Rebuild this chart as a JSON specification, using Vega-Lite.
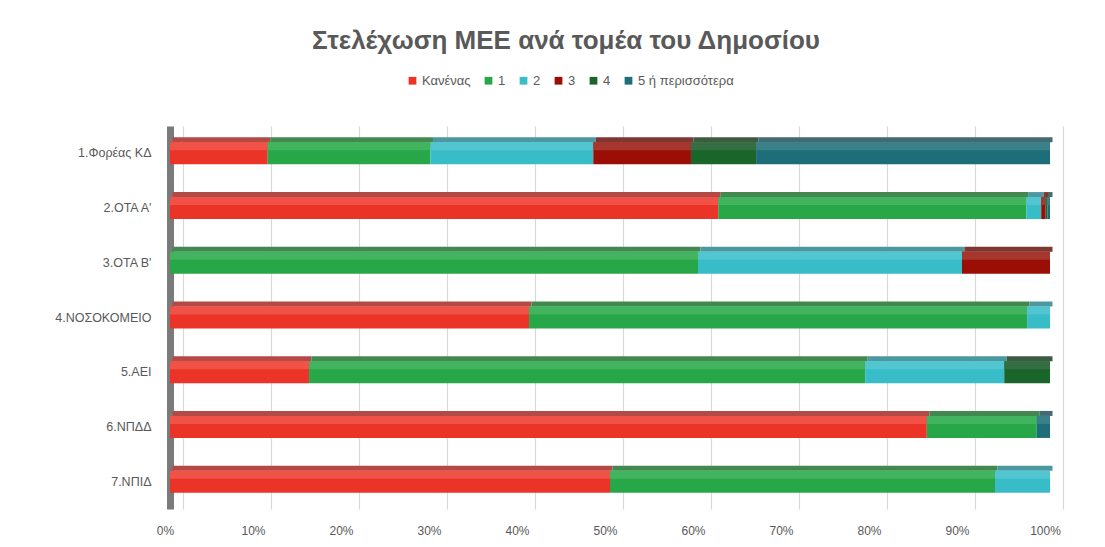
{
  "$schema": "https://vega.github.io/schema/vega-lite/v6.json",
  "width": 880,
  "height": 383,
  "autosize": {"type": "none"},
  "padding": {"left": 170, "top": 126, "right": 55, "bottom": 38},
  "background": "white",
  "config": {
    "font": "Liberation Sans",
    "view": {"stroke": null}
  },
  "title": {
    "text": "Στελέχωση ΜΕΕ ανά τομέα του Δημοσίου",
    "fontSize": 26,
    "fontWeight": "bold",
    "color": "#595959",
    "font": "Liberation Sans",
    "anchor": "middle",
    "dx": -44,
    "offset": 20
  },
  "data": {
    "values": [
      {"sector": "1.Φορέας ΚΔ", "cat": "Κανένας", "k": 0, "value": 11.1},
      {"sector": "1.Φορέας ΚΔ", "cat": "1", "k": 1, "value": 18.5},
      {"sector": "1.Φορέας ΚΔ", "cat": "2", "k": 2, "value": 18.5},
      {"sector": "1.Φορέας ΚΔ", "cat": "3", "k": 3, "value": 11.1},
      {"sector": "1.Φορέας ΚΔ", "cat": "4", "k": 4, "value": 7.4},
      {"sector": "1.Φορέας ΚΔ", "cat": "5 ή περισσότερα", "k": 5, "value": 33.4},
      {"sector": "2.ΟΤΑ Α'", "cat": "Κανένας", "k": 0, "value": 62.3},
      {"sector": "2.ΟΤΑ Α'", "cat": "1", "k": 1, "value": 35.0},
      {"sector": "2.ΟΤΑ Α'", "cat": "2", "k": 2, "value": 1.7},
      {"sector": "2.ΟΤΑ Α'", "cat": "3", "k": 3, "value": 0.5},
      {"sector": "2.ΟΤΑ Α'", "cat": "4", "k": 4, "value": 0.2},
      {"sector": "2.ΟΤΑ Α'", "cat": "5 ή περισσότερα", "k": 5, "value": 0.3},
      {"sector": "3.ΟΤΑ Β'", "cat": "1", "k": 1, "value": 60},
      {"sector": "3.ΟΤΑ Β'", "cat": "2", "k": 2, "value": 30},
      {"sector": "3.ΟΤΑ Β'", "cat": "3", "k": 3, "value": 10},
      {"sector": "4.ΝΟΣΟΚΟΜΕΙΟ", "cat": "Κανένας", "k": 0, "value": 40.8},
      {"sector": "4.ΝΟΣΟΚΟΜΕΙΟ", "cat": "1", "k": 1, "value": 56.6},
      {"sector": "4.ΝΟΣΟΚΟΜΕΙΟ", "cat": "2", "k": 2, "value": 2.6},
      {"sector": "5.ΑΕΙ", "cat": "Κανένας", "k": 0, "value": 15.8},
      {"sector": "5.ΑΕΙ", "cat": "1", "k": 1, "value": 63.2},
      {"sector": "5.ΑΕΙ", "cat": "2", "k": 2, "value": 15.8},
      {"sector": "5.ΑΕΙ", "cat": "4", "k": 4, "value": 5.2},
      {"sector": "6.ΝΠΔΔ", "cat": "Κανένας", "k": 0, "value": 86.0},
      {"sector": "6.ΝΠΔΔ", "cat": "1", "k": 1, "value": 12.5},
      {"sector": "6.ΝΠΔΔ", "cat": "5 ή περισσότερα", "k": 5, "value": 1.5},
      {"sector": "7.ΝΠΙΔ", "cat": "Κανένας", "k": 0, "value": 50.0},
      {"sector": "7.ΝΠΙΔ", "cat": "1", "k": 1, "value": 43.75},
      {"sector": "7.ΝΠΙΔ", "cat": "2", "k": 2, "value": 6.25}
    ]
  },
  "encoding": {
    "y": {
      "field": "sector",
      "type": "nominal",
      "sort": ["1.Φορέας ΚΔ", "2.ΟΤΑ Α'", "3.ΟΤΑ Β'", "4.ΝΟΣΟΚΟΜΕΙΟ", "5.ΑΕΙ", "6.ΝΠΔΔ", "7.ΝΠΙΔ"],
      "scale": {"paddingInner": 0, "paddingOuter": 0},
      "axis": {
        "title": null,
        "ticks": false,
        "domain": true,
        "domainColor": "#7a7a7a",
        "domainWidth": 7,
        "labelPadding": 19,
        "labelFontSize": 12.5,
        "labelColor": "#595959",
        "labelFont": "Liberation Sans"
      }
    },
    "x": {
      "field": "value",
      "type": "quantitative",
      "stack": "normalize",
      "axis": {
        "title": null,
        "format": "%",
        "values": [0, 0.1, 0.2, 0.3, 0.4, 0.5, 0.6, 0.7, 0.8, 0.9, 1],
        "labelOverlap": false,
        "labelFlush": false,
        "grid": true,
        "gridColor": "#d9d9d9",
        "gridWidth": 1.2,
        "tickOffset": 13,
        "labelOffset": -18,
        "ticks": false,
        "domain": false,
        "labelPadding": 16,
        "labelFontSize": 12,
        "labelColor": "#595959",
        "labelFont": "Liberation Sans"
      }
    },
    "order": {"field": "k", "type": "quantitative"}
  },
  "layer": [
    {
      "mark": {"type": "bar", "size": 5, "yOffset": -13.5, "xOffset": 2.5},
      "encoding": {
        "color": {
          "field": "cat",
          "type": "nominal",
          "scale": {
            "domain": ["Κανένας", "1", "2", "3", "4", "5 ή περισσότερα"],
            "range": ["#B34A45", "#43894F", "#4C97A0", "#7E3631", "#3E5A41", "#416B70"]
          },
          "legend": null
        }
      }
    },
    {
      "mark": {"type": "bar", "size": 22},
      "encoding": {
        "color": {
          "field": "cat",
          "type": "nominal",
          "scale": {
            "domain": ["Κανένας", "1", "2", "3", "4", "5 ή περισσότερα"],
            "range": ["#EC3327", "#28A748", "#38BCC8", "#9A0E06", "#19652A", "#1D6E79"]
          },
          "legend": {
            "title": null,
            "orient": "none",
            "direction": "horizontal",
            "legendX": 236,
            "legendY": -52,
            "symbolType": "square",
            "symbolSize": 60,
            "symbolStrokeWidth": 0,
            "labelFontSize": 13,
            "labelColor": "#595959",
            "labelFont": "Liberation Sans",
            "labelOffset": 3,
            "columnPadding": 11
          }
        }
      }
    },
    {
      "mark": {"type": "bar", "size": 8, "yOffset": -7},
      "encoding": {
        "color": {
          "field": "cat",
          "type": "nominal",
          "scale": {
            "domain": ["Κανένας", "1", "2", "3", "4", "5 ή περισσότερα"],
            "range": ["#F05247", "#42B35E", "#52C6D0", "#A6372F", "#336F42", "#3A8089"]
          },
          "legend": null
        }
      }
    }
  ],
  "resolve": {"scale": {"color": "independent"}}
}
